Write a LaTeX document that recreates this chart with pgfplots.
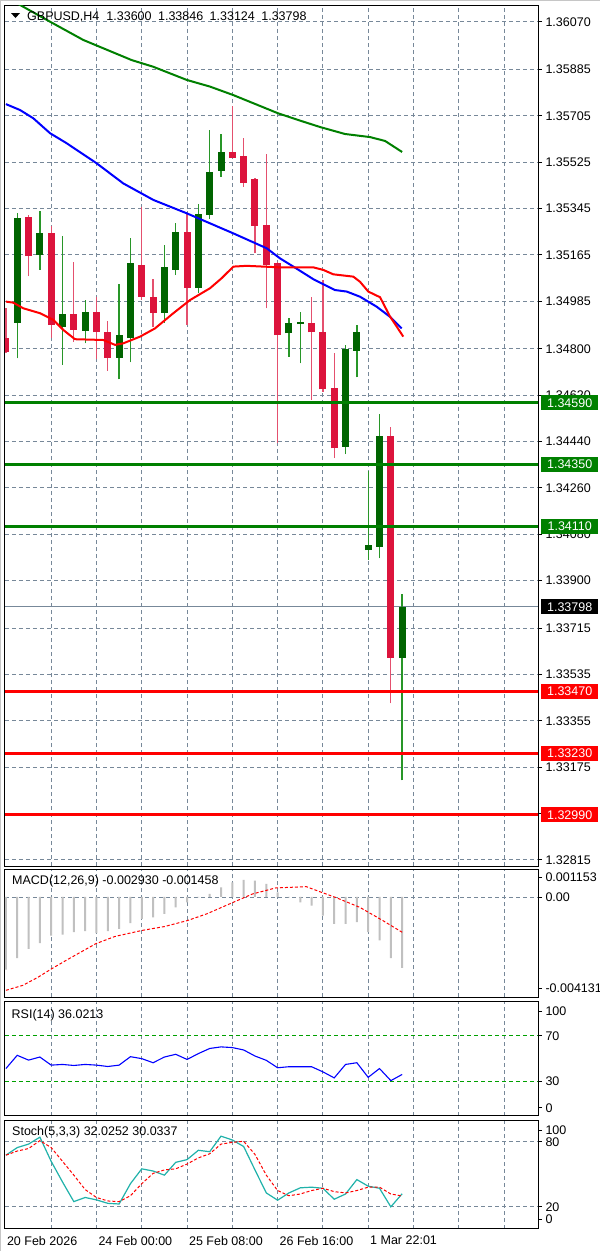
\documentclass[border=0pt]{standalone}
\usepackage{fontspec}
\setmainfont{Liberation Sans}
\usepackage{pgfplots}
\usepackage{pgfplotstable}
\pgfplotsset{compat=1.18}

\definecolor{bullbody}{RGB}{0,100,0}
\definecolor{bullwick}{RGB}{40,150,40}
\definecolor{bearbody}{RGB}{220,20,60}
\definecolor{bearwick}{RGB}{228,80,110}
\definecolor{gridc}{RGB}{119,136,153}
\definecolor{lvlgreen}{RGB}{0,128,0}
\definecolor{lvlred}{RGB}{255,0,0}
\definecolor{macdhist}{RGB}{192,192,192}
\definecolor{stochmain}{RGB}{32,178,170}
\definecolor{rsigreen}{RGB}{0,160,0}

\newcommand\lbl{\fontsize{12.5}{14}\selectfont}

% candles: bar index, open, high, low, close
\pgfplotstableread{
k  o       h       l       c
1  1.34901 1.35326 1.34763 1.35307
3  1.35164 1.35336 1.35106 1.35248
5  1.34886 1.35238 1.34737 1.34935
7  1.34869 1.34989 1.34821 1.34944
10 1.34765 1.35050 1.34681 1.34853
11 1.34841 1.35231 1.34747 1.35132
14 1.34940 1.35203 1.34901 1.35116
15 1.35106 1.35287 1.35086 1.35252
17 1.35035 1.35362 1.35018 1.35323
18 1.35319 1.35649 1.35304 1.35488
19 1.35491 1.35633 1.35468 1.35565
25 1.34860 1.34918 1.34769 1.34901
26 1.34896 1.34944 1.34743 1.34904
30 1.34420 1.34815 1.34391 1.34798
31 1.34792 1.34892 1.34689 1.34866
32 1.34018 1.34326 1.33980 1.34038
33 1.34031 1.34545 1.33986 1.34461
35 1.33600 1.33846 1.33124 1.33798
}\bull

\pgfplotstableread{
k  o       h       l       c
0  1.34840 1.34957 1.34785 1.34788
2  1.35313 1.35319 1.35082 1.35160
4  1.35248 1.35277 1.34841 1.34892
6  1.34935 1.35138 1.34827 1.34873
8  1.34944 1.35002 1.34759 1.34864
9  1.34866 1.34908 1.34715 1.34765
12 1.35125 1.35352 1.34989 1.35002
13 1.35000 1.35072 1.34886 1.34940
16 1.35252 1.35326 1.34892 1.35035
20 1.35565 1.35743 1.35539 1.35540
21 1.35550 1.35617 1.35429 1.35445
22 1.35458 1.35462 1.35171 1.35277
23 1.35280 1.35556 1.34957 1.35125
24 1.35132 1.35135 1.34435 1.34853
27 1.34901 1.35002 1.34601 1.34864
28 1.34866 1.35067 1.34633 1.34642
29 1.34646 1.34782 1.34375 1.34413
34 1.34461 1.34495 1.33423 1.33600
}\bear

\pgfplotsset{
  mt4/.style={
    scale only axis, width=533pt,
    xmin=-0.08, xmax=47,
    axis line style={black, line width=1pt},
    grid style={gridc, dash pattern=on 4pt off 3pt, line width=0.8pt},
    xmajorgrids, xtick={4,8,...,44}, xticklabels={}, xtick style={draw=none},
    ytick pos=right, yticklabel pos=right, tick align=outside,
    major tick length=4pt, minor tick length=0pt,
    ytick style={black, line width=0.8pt},
    yticklabel style={font=\lbl},
    scaled y ticks=false, scaled x ticks=false,
  },
  lvl/.style={line width=3pt, forget plot},
  candle/.style 2 args={draw=none, mark=none, forget plot,
    error bars/.cd, y dir=plus, y explicit, error mark=none,
    error bar style={draw=#1, line width=#2}},
}

\begin{document}
\begin{tikzpicture}
\useasboundingbox (0,0) rectangle (600pt,-1251pt);
\fill[white] (0,0) rectangle (600pt,-1251pt);
\draw[gray!45, line width=2pt] (0,0) -- (0,-1251pt);
\draw[gray!45, line width=1pt] (0,-0.5pt) -- (600pt,-0.5pt);

% ---------------- price panel ----------------
\begin{axis}[mt4, at={(5pt,-866pt)}, anchor=south west, height=861pt,
  ymin=1.327912, ymax=1.361349, ymajorgrids,
  ytick={1.36070,1.35885,1.35705,1.35525,1.35345,1.35165,1.34985,1.34800,1.34620,1.34440,1.34260,1.34080,1.33900,1.33715,1.33535,1.33355,1.33175,1.32995,1.32815},
  yticklabels={1.36070,1.35885,1.35705,1.35525,1.35345,1.35165,1.34985,1.34800,1.34620,1.34440,1.34260,1.34080,1.33900,1.33715,1.33535,1.33355,1.33175,1.32995,1.32815},
]
% bid line
\addplot[gridc, line width=0.8pt, forget plot] coordinates {(-0.08,1.33798) (47,1.33798)};
% wicks
\addplot[candle={bullwick}{1.3pt}] table[x=k, y=l, y error plus expr=\thisrow{h}-\thisrow{l}] {\bull};
\addplot[candle={bearwick}{1.3pt}] table[x=k, y=l, y error plus expr=\thisrow{h}-\thisrow{l}] {\bear};
% bodies
\addplot[candle={bullbody}{7pt}] table[x=k, y=o, y error plus expr=\thisrow{c}-\thisrow{o}] {\bull};
\addplot[candle={bearbody}{7pt}] table[x=k, y=c, y error plus expr=\thisrow{o}-\thisrow{c}] {\bear};
% moving averages
\addplot[lvlgreen, line width=2pt, mark=none] coordinates {(0,1.36166) (1.25,1.36135) (3.9,1.36070) (6.84,1.35999) (11.11,1.35921) (13.02,1.35895) (15.97,1.35844) (18.03,1.35818) (20.09,1.35785) (24.06,1.35714) (25.98,1.35686) (27.75,1.35661) (29.95,1.35634) (32.16,1.35622) (33.49,1.35607) (35,1.35564)};
\addplot[blue, line width=2pt, mark=none] coordinates {(0,1.35750) (1.25,1.35727) (2.42,1.35695) (3.9,1.35637) (5.37,1.35598) (8.02,1.35520) (10.37,1.35442) (13.02,1.35378) (15.97,1.35326) (20.09,1.35248) (23.04,1.35190) (24.21,1.35151) (25.39,1.35119) (27.16,1.35070) (29.07,1.35028) (30.11,1.35022) (31.28,1.35002) (32.76,1.34963) (33.93,1.34924) (34.96,1.34879)};
\addplot[red, line width=2pt, mark=none] coordinates {(0,1.34983) (0.65,1.34979) (1.54,1.34957) (3.01,1.34938) (4.19,1.34912) (5.07,1.34873) (6.1,1.34837) (8.6,1.34834) (9.64,1.34815) (10.37,1.34821) (11.85,1.34847) (13.17,1.34879) (14.79,1.34938) (16.26,1.34989) (18.03,1.35035) (19.06,1.35074) (20.09,1.35119) (21.27,1.35122) (24.21,1.35116) (27.16,1.35116) (28.04,1.35106) (28.92,1.35089) (30.69,1.35080) (31.28,1.35060) (32.01,1.35022) (33.05,1.35000) (33.93,1.34925) (34.52,1.34886) (35.1,1.34847)};
% support / resistance levels
\addplot[lvl, lvlgreen] coordinates {(-0.08,1.34590) (47,1.34590)};
\addplot[lvl, lvlgreen] coordinates {(-0.08,1.34350) (47,1.34350)};
\addplot[lvl, lvlgreen] coordinates {(-0.08,1.34110) (47,1.34110)};
\addplot[lvl, lvlred] coordinates {(-0.08,1.33470) (47,1.33470)};
\addplot[lvl, lvlred] coordinates {(-0.08,1.33230) (47,1.33230)};
\addplot[lvl, lvlred] coordinates {(-0.08,1.32990) (47,1.32990)};
\coordinate (g1) at (axis cs:47,1.34590);
\coordinate (g2) at (axis cs:47,1.34350);
\coordinate (g3) at (axis cs:47,1.34110);
\coordinate (bid) at (axis cs:47,1.33798);
\coordinate (r1) at (axis cs:47,1.33470);
\coordinate (r2) at (axis cs:47,1.33230);
\coordinate (r3) at (axis cs:47,1.32990);
\end{axis}

\begin{scope}[every node/.style={anchor=west, xshift=3pt, minimum width=57pt, minimum height=15pt, inner sep=0pt, text=white, font=\lbl}]
\node[fill=lvlgreen] at (g1) {1.34590};
\node[fill=lvlgreen] at (g2) {1.34350};
\node[fill=lvlgreen] at (g3) {1.34110};
\node[fill=black] at (bid) {1.33798};
\node[fill=lvlred] at (r1) {1.33470};
\node[fill=lvlred] at (r2) {1.33230};
\node[fill=lvlred] at (r3) {1.32990};
\end{scope}

\fill[black] (11pt,-13pt) -- (20pt,-13pt) -- (15.5pt,-18pt) -- cycle;
\node[anchor=west, inner sep=0pt, font=\lbl] at (27pt,-16.5pt) {GBPUSD,H4\hspace{7pt}1.33600\hspace{3pt} 1.33846\hspace{3pt} 1.33124\hspace{3pt} 1.33798};

% ---------------- MACD ----------------
\begin{axis}[mt4, at={(5pt,-997pt)}, anchor=south west, height=128pt,
  ymin=-0.004131, ymax=0.001153,
  ytick={-0.003772,0,0.00081}, yticklabels={-0.004131,0.00,0.001153},
]
\addplot[gridc, dash pattern=on 4pt off 3pt, line width=0.8pt, forget plot] coordinates {(-0.08,0) (47,0)};
\addplot[ybar, bar width=2pt, fill=macdhist, draw=none] coordinates {(0,-0.00300) (1,-0.002526) (2,-0.002139) (3,-0.001909) (4,-0.001592) (5,-0.001551) (6,-0.001456) (7,-0.001415) (8,-0.001497) (9,-0.001415) (10,-0.001316) (11,-0.001086) (12,-0.000905) (13,-0.000839) (14,-0.000699) (15,-0.000427) (16,-0.000221) (17,-0.00002) (18,0.000124) (19,0.000396) (20,0.000602) (21,0.0007) (22,0.000672) (23,0.000536) (24,0.00019) (25,-0.00002) (26,-0.000221) (27,-0.000357) (28,-0.00077) (29,-0.00111) (30,-0.00111) (31,-0.001044) (32,-0.001456) (33,-0.001797) (34,-0.002526) (35,-0.00293)};
\addplot[red, line width=1pt, dash pattern=on 3pt off 2pt, mark=none] coordinates {(0,-0.003855) (1.5,-0.003649) (2.86,-0.003308) (4.05,-0.002962) (5.57,-0.002551) (7.93,-0.001933) (9.62,-0.001633) (11.99,-0.001386) (14.02,-0.001221) (16.04,-0.000974) (17.74,-0.000699) (19.76,-0.000287) (21.79,0.000124) (23.82,0.000371) (26.53,0.000425) (27.88,0.00019) (29.23,-0.00004) (31.25,-0.000427) (33.29,-0.000974) (35,-0.001458)};
\end{axis}
\node[anchor=west, inner sep=0pt, font=\lbl] at (12pt,-881.7pt) {MACD(12,26,9) -0.002930 -0.001458};

% ---------------- RSI ----------------
\begin{axis}[mt4, at={(5pt,-1115.5pt)}, anchor=south west, height=114pt,
  ymin=0, ymax=100,
  ytick={6.8,30,70,91.7}, yticklabels={0,30,70,100},
]
\addplot[rsigreen, dash pattern=on 4pt off 3pt, line width=1pt, forget plot] coordinates {(-0.08,70) (47,70)};
\addplot[rsigreen, dash pattern=on 4pt off 3pt, line width=1pt, forget plot] coordinates {(-0.08,30) (47,30)};
\addplot[blue, line width=1.1pt, mark=none] coordinates {(0,41.2) (1,52.8) (2,48.6) (3,51.3) (4,44.2) (5,44.8) (6,43.9) (7,44.8) (8,44.2) (9,43.0) (10,44.2) (11,51.6) (12,49.9) (13,46.3) (14,51.3) (15,53.7) (16,49.2) (17,54.3) (18,58.8) (19,60.2) (20,59.6) (21,57.5) (22,52.2) (23,48.4) (24,41.9) (25,42.8) (26,42.8) (27,42.8) (28,38.3) (29,33.0) (30,44.8) (31,46.3) (32,33.5) (33,41.2) (34,30.6) (35,36.0)};
\end{axis}
\node[anchor=west, inner sep=0pt, font=\lbl] at (11.5pt,-1015pt) {RSI(14) 36.0213};

% ---------------- Stochastic ----------------
\begin{axis}[mt4, at={(5pt,-1228.5pt)}, anchor=south west, height=108.5pt,
  ymin=0, ymax=100,
  ytick={8.8,20,80,90.8}, yticklabels={0,20,80,100},
  xtick={8,16,24,32}, minor xtick={4,12,20,28,36,40,44}, xminorgrids,
  xticklabels={24 Feb 00:00,25 Feb 08:00,26 Feb 16:00,1 Mar 22:01},
  xtick style={black, line width=0.8pt}, xtick pos=left,
  xticklabel style={anchor=north west, font=\lbl, xshift=-1.5pt},
  extra x ticks={-0.08}, extra x tick labels={20 Feb 2026},
  extra x tick style={grid=none},
]
\addplot[gridc, dash pattern=on 4pt off 3pt, line width=0.8pt, forget plot] coordinates {(-0.08,80) (47,80)};
\addplot[gridc, dash pattern=on 4pt off 3pt, line width=0.8pt, forget plot] coordinates {(-0.08,20) (47,20)};
\addplot[stochmain, line width=1.2pt, mark=none] coordinates {(0,67.6) (1,74.6) (2,77.8) (3,84.2) (4,61.9) (5,42.9) (6,24.8) (7,28.6) (8,26.4) (9,23.2) (10,22.6) (11,41.3) (12,55) (13,53) (14,49.2) (15,61) (16,63.5) (17,72.1) (18,70.8) (19,85.1) (20,81.6) (21,75.6) (22,54) (23,32.8) (24,26.1) (25,32.8) (26,37.5) (27,38.1) (28,37.1) (29,27) (30,31.8) (31,45.1) (32,39) (33,37.1) (34,20) (35,32.0)};
\addplot[red, line width=1pt, dash pattern=on 3pt off 2pt, mark=none] coordinates {(0,67.6) (1,71.4) (2,73.7) (3,81) (4,74.6) (5,61.9) (6,49.2) (7,35.9) (8,28.6) (9,25.4) (10,24.8) (11,30.2) (12,41.3) (13,50.8) (14,54) (15,55) (16,59.4) (17,65.1) (18,68.9) (19,77.8) (20,79.4) (21,80.4) (22,68.3) (23,49.2) (24,35) (25,30.2) (26,31.8) (27,35) (28,37.1) (29,34) (30,32.8) (31,35) (32,38.1) (33,38.1) (34,31.8) (35,30.0)};
\end{axis}
\node[anchor=west, inner sep=0pt, font=\lbl] at (12pt,-1132.3pt) {Stoch(5,3,3) 32.0252 30.0337};
\end{tikzpicture}
\end{document}
